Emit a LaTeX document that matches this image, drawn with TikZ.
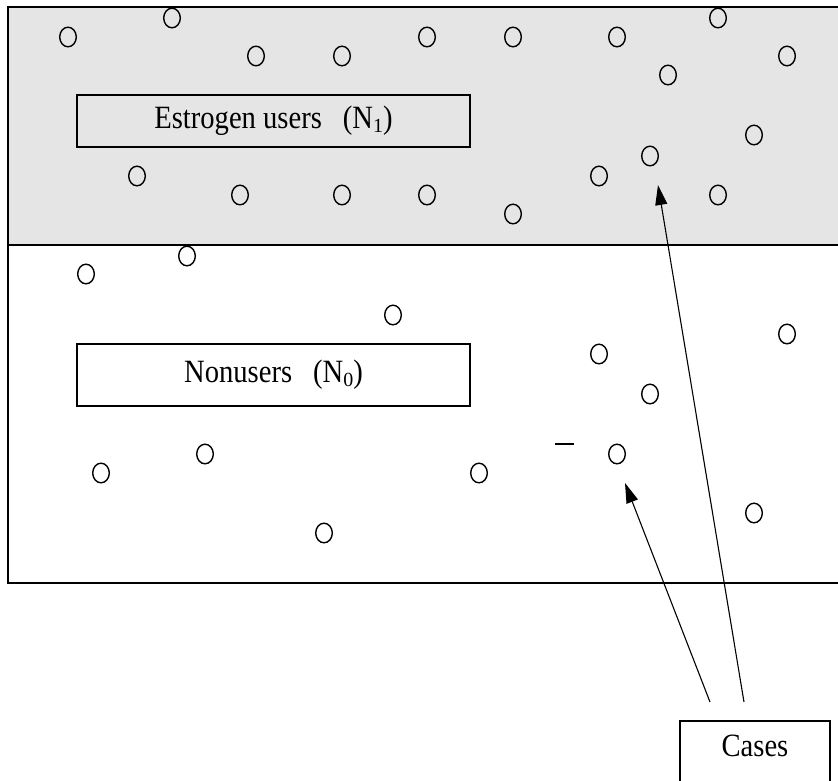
\documentclass[tikz,border=0pt]{standalone}
\usepackage{fontspec}
\setmainfont{Liberation Serif}
\newfontfamily\labelfont[FakeStretch=0.88]{Liberation Serif}
\usetikzlibrary{arrows.meta}
\definecolor{usershade}{HTML}{E5E5E5}
\newcommand{\grp}[1]{\raisebox{-4pt}{\rmfamily\fontsize{20}{20}\selectfont #1}}
\begin{document}
\begin{tikzpicture}[x=1pt,y=-1pt,
  frame/.style={line width=1.4pt},
  labeltext/.style={font=\labelfont\fontsize{32.5}{38}\selectfont},
  labelbox/.style={draw, line width=1.5pt, inner sep=0pt, minimum width=393pt, labeltext},
  subject/.style={line width=1.4pt},
  pointer/.style={line width=1.1pt, -{Triangle[length=20pt,width=12pt]}}]
\useasboundingbox (0,0) rectangle (838,780);
% population: estrogen users (shaded) above, nonusers below
\fill[usershade] (8,7) rectangle (845,245);
\draw[frame] (845,7) -- (8,7) -- (8,583) -- (845,583);
\draw[frame] (8,245) -- (845,245);
% individuals
\foreach \cx/\cy in {68/37,172/18,256/56,342/56,427/37,513/37,617/37,718/18,787/56,
  668/75,754/135,650/156,599/176,718/195,513/214,427/195,342/195,240/195,137/176,
  86/274,187/256,393/315,787/334,599/354,650/394,617/454,101/473,205/454,479/473,
  754/513,324/533}
  \draw[subject] (\cx,\cy) ellipse [x radius=8.3pt, y radius=9.8pt];
\draw[line width=1.7pt] (555,444) -- (574,444);
% group labels
\node[labelbox, minimum height=52pt] (users) at (273.5,121)
  {Estrogen users\hspace{21pt}(N\grp{1})};
\node[labelbox, minimum height=62pt] (nonusers) at (273.5,375)
  {Nonusers\hspace{21pt}(N\grp{0})};
% cases
\node[draw, line width=1.5pt, inner sep=0pt, minimum width=150pt, minimum height=70pt,
  text height=21pt, text depth=19pt, labeltext,
  anchor=north] (cases) at (755,720) {Cases};
\coordinate (fromA) at (710,702);
\coordinate (fromB) at (744,702);
\coordinate (caseA) at (625,483);
\coordinate (caseB) at (658,185);
\draw[pointer] (fromA) -- (caseA);
\draw[pointer] (fromB) -- (caseB);
\end{tikzpicture}
\end{document}
